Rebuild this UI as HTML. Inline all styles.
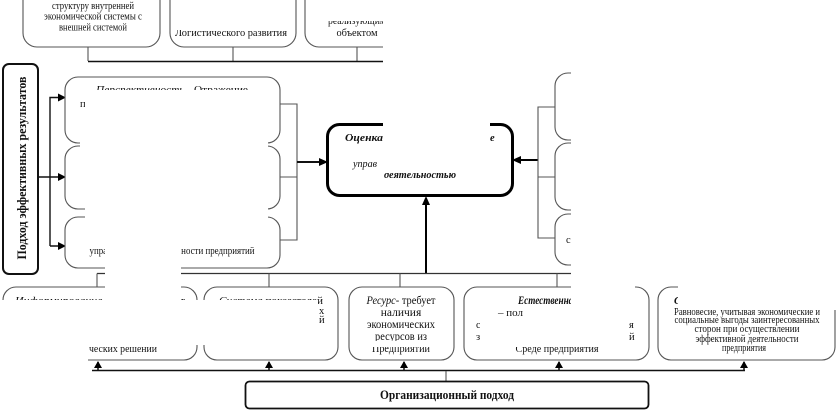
<!DOCTYPE html>
<html lang="ru"><head><meta charset="utf-8"><style>
html,body{margin:0;padding:0;background:#fff;width:838px;height:411px;overflow:hidden}
svg{display:block;filter:blur(.3px)}
text{font-family:"Liberation Serif","Noto Serif CJK SC",serif;fill:#111;font-size:10.5px}
.c{text-anchor:middle}
.b{font-weight:bold}.i{font-style:italic}
.g{fill:#fff;stroke:#555;stroke-width:1.1}
.k{fill:none;stroke:#111;stroke-width:1.4}
.l{fill:none;stroke:#555;stroke-width:1.1}
.w{fill:#fff;stroke:none}
.a{fill:#000;stroke:none}
</style></head><body>
<svg width="838" height="411" viewBox="0 0 838 411" xmlns="http://www.w3.org/2000/svg">
<!-- top boxes -->
<rect class="g" x="23" y="-40" width="137" height="87" rx="14"/>
<rect class="g" x="170" y="-40" width="126" height="87" rx="14"/>
<rect class="g" x="305" y="-40" width="150" height="87" rx="14"/>
<path class="l" d="M88 47V61M233 47V61M357 47V61"/>
<path class="k" d="M88 61.500H383"/>
<text class="c" x="93" y="9" textLength="82" lengthAdjust="spacingAndGlyphs">структуру внутренней</text>
<text class="c" x="93" y="19.500" textLength="98" lengthAdjust="spacingAndGlyphs">экономической системы с</text>
<text class="c" x="93" y="30.500" textLength="68" lengthAdjust="spacingAndGlyphs">внешней системой</text>
<text class="c" x="231" y="36" textLength="112" lengthAdjust="spacingAndGlyphs">Логистического развития</text>
<text class="c" x="357" y="24" textLength="58" lengthAdjust="spacingAndGlyphs">реализующим</text>
<text class="c" x="357" y="36" textLength="41" lengthAdjust="spacingAndGlyphs">объектом</text>
<rect class="w" x="172" y="-2" width="122" height="32"/>
<rect class="w" x="307" y="-2" width="76" height="23"/>
<rect class="w" x="383" y="0" width="60" height="62"/>
<rect class="w" x="443" y="0" width="395" height="70"/>

<!-- left tall box -->
<rect x="3" y="64" width="35" height="210" rx="6" fill="#fff" stroke="#111" stroke-width="2"/>
<text class="b c" transform="translate(26 168) rotate(-90)" style="font-size:13px" textLength="183" lengthAdjust="spacingAndGlyphs">Подход эффективных результатов</text>
<path class="k" d="M38 177H58M50 246V97.500H58M50 246H58"/>
<path class="a" d="M66 97.500l-8-4v8zM66 177l-8-4v8zM66 246l-8-4v8z"/>

<!-- middle left boxes -->
<rect class="g" x="65" y="77" width="215" height="66" rx="13"/>
<rect class="g" x="65" y="146" width="215" height="63" rx="13"/>
<rect class="g" x="65" y="217" width="215" height="51" rx="13"/>
<path class="l" d="M280 104H297V240H280M280 177H297"/>
<path d="M297 162H320" stroke="#111" stroke-width="2" fill="none"/>
<path class="a" d="M328 162l-9-4v8z"/>
<text class="c" x="172" y="93" textLength="152" lengthAdjust="spacingAndGlyphs"><tspan class="i">Перспективность</tspan> - Отражение</text>
<text x="80" y="107" fill="#630">п</text>
<text x="250" y="184">с</text>
<text class="c" x="172" y="254" textLength="165" lengthAdjust="spacingAndGlyphs">управленческой деятельности предприятий</text>
<rect class="w" x="85" y="90" width="183" height="157"/>
<rect class="w" x="80" y="110" width="170" height="70"/>
<rect class="w" x="87" y="146" width="160" height="100"/>

<!-- centre -->
<rect x="327.500" y="124.500" width="185" height="71" rx="12" fill="#fff" stroke="#000" stroke-width="3"/>
<text class="i b" x="345" y="141" textLength="38" lengthAdjust="spacingAndGlyphs">Оценка</text>
<text class="i b" x="490" y="141">е</text>
<text class="i" x="353" y="167" textLength="24" lengthAdjust="spacingAndGlyphs">управ</text>
<text class="i b c" x="420" y="178" textLength="72" lengthAdjust="spacingAndGlyphs">деятельностью</text>
<rect class="w" x="383" y="118" width="107" height="55"/>
<rect class="w" x="352" y="128" width="31" height="8"/>
<rect class="w" x="352" y="159" width="26" height="2"/>

<!-- centre up arrow + bottom bus -->
<path d="M426 273V204" stroke="#000" stroke-width="2" fill="none"/>
<path class="a" d="M426 196l-4 9h8z"/>
<path d="M97 273.500H571" stroke="#333" stroke-width="1.200" fill="none"/>
<path class="l" d="M97 273.500V287M269 273.500V287M400 273.500V287M557 273.500V287"/>

<!-- right boxes -->
<path d="M538 160H520" stroke="#000" stroke-width="2" fill="none"/>
<path class="a" d="M512 160l9-4v8z"/>
<path class="l" d="M555 107H538V238H555M538 177H555"/>
<rect class="g" x="555" y="73" width="120" height="67" rx="13"/>
<rect class="g" x="555" y="143" width="120" height="67" rx="13"/>
<rect class="g" x="555" y="214" width="120" height="51" rx="13"/>
<text x="566" y="243">с</text>

<!-- bottom boxes -->
<rect class="g" x="3" y="287" width="194" height="73" rx="13"/>
<rect class="g" x="204" y="287" width="134" height="73" rx="13"/>
<rect class="g" x="349" y="287" width="105" height="73" rx="13"/>
<rect class="g" x="464" y="287" width="185" height="73" rx="13"/>
<rect class="g" x="658" y="287" width="177" height="73" rx="13"/>

<text class="c" x="100" y="304" textLength="170" lengthAdjust="spacingAndGlyphs"><tspan class="i">Информирование</tspan> - предоставляет</text>
<text class="c" x="123" y="352" textLength="68" lengthAdjust="spacingAndGlyphs">ческих решений</text>
<text class="c" x="271" y="304" textLength="104" lengthAdjust="spacingAndGlyphs"><tspan class="i">Система</tspan> показателей</text>
<text x="319" y="314">х</text>
<text x="319" y="323">й</text>
<text class="c" x="401" y="304" textLength="69" lengthAdjust="spacingAndGlyphs" style="font-size:11.500px"><tspan class="i">Ресурс-</tspan> требует</text>
<text class="c" x="401" y="316" style="font-size:11.500px">наличия</text>
<text class="c" x="401" y="328" textLength="68" lengthAdjust="spacingAndGlyphs" style="font-size:11.500px">экономических</text>
<text class="c" x="401" y="340" textLength="52" lengthAdjust="spacingAndGlyphs" style="font-size:11.500px">ресурсов из</text>
<text class="c" x="401" y="352" textLength="58" lengthAdjust="spacingAndGlyphs" style="font-size:11.500px">Предприятий</text>
<text class="i b" x="518" y="304" textLength="60" lengthAdjust="spacingAndGlyphs" style="font-size:12px">Естественная</text>
<text x="498" y="316" textLength="25" lengthAdjust="spacingAndGlyphs">– пол</text>
<text x="476" y="328">с</text>
<text x="476" y="340">з</text>
<text x="629" y="328">я</text>
<text x="629" y="340">й</text>
<text class="c" x="557" y="352" textLength="83" lengthAdjust="spacingAndGlyphs">Среде предприятия</text>
<text class="i b" x="674" y="304">С</text>
<text class="c" x="747" y="315" textLength="146" lengthAdjust="spacingAndGlyphs">Равновесие, учитывая экономические и</text>
<text class="c" x="747" y="323" textLength="145" lengthAdjust="spacingAndGlyphs">социальные выгоды заинтересованных</text>
<text class="c" x="747" y="332" textLength="105" lengthAdjust="spacingAndGlyphs">сторон при осуществлении</text>
<text class="c" x="747" y="342" textLength="103" lengthAdjust="spacingAndGlyphs">эффективной деятельности</text>
<text class="c" x="744" y="351" textLength="44" lengthAdjust="spacingAndGlyphs">предприятия</text>

<!-- clipping whites over bottom row -->
<rect class="w" x="0" y="300" width="318" height="45"/>
<rect class="w" x="0" y="345" width="88" height="23"/>
<rect class="w" x="88" y="345" width="105" height="2"/>
<rect class="w" x="206" y="306" width="112" height="39"/>
<rect class="w" x="480" y="318" width="147" height="29"/>
<rect class="w" x="526" y="308" width="103" height="10"/>
<rect class="w" x="351" y="341" width="100" height="6"/>
<rect class="w" x="105" y="247" width="76" height="56"/>

<!-- big right white -->
<rect class="w" x="571" y="0" width="267" height="286"/>
<rect class="w" x="571" y="274" width="64" height="34"/>
<rect class="w" x="678" y="280" width="160" height="30"/>

<!-- bottom bus & arrows -->
<path class="k" d="M92 370.500H745"/>
<path d="M98 362V370M269 362V370M404 362V370M559 362V370M744 362V370" stroke="#111" stroke-width="1.500"/>
<path class="a" d="M98 361l-4 7h8zM269 361l-4 7h8zM404 361l-4 7h8zM559 361l-4 7h8zM744 361l-4 7h8z"/>
<path class="l" d="M446 371V381"/>
<rect x="245.500" y="381.500" width="403" height="27" rx="4" fill="#fff" stroke="#111" stroke-width="1.800"/>
<text class="b c" x="447" y="399" style="font-size:12.500px" textLength="134" lengthAdjust="spacingAndGlyphs">Организационный подход</text>
</svg>
</body></html>
